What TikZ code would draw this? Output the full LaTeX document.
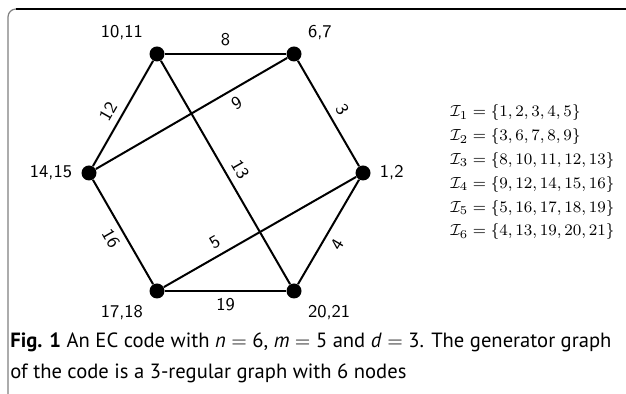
\documentclass[tikz,border=0pt]{standalone}
\usepackage{amsmath, amssymb}
\usepackage{fontspec}
\usepackage{xcolor}
\usepackage{tikz}
\usetikzlibrary{positioning}
\newfontfamily\capfont{PT Sans}

\begin{document}
\begin{tikzpicture}[
  x=0.5pt, y=0.5pt,
  vertex/.style={circle, fill, inner sep=0pt, minimum size=7.5pt},
  every label/.style={font=\sffamily\fontsize{9}{11}\selectfont},
  link/.style={line width=1pt},
  elabel/.style={font=\sffamily\fontsize{9}{11}\selectfont, sloped},
  setline/.style={anchor=west, inner sep=0pt, font=\fontsize{8.1}{10}\selectfont},
  label distance=1pt
]
\useasboundingbox (0,0) rectangle (626,394);

\draw[gray, line width=0.6pt] (8,0) -- (8,377) arc[start angle=180, end angle=90, radius=8];
\draw[black, line width=0.6pt] (16,385) -- (626,385);

\node[vertex, label={above left:10,11}] (n1011) at (157,340) {};
\node[vertex, label={above right:6,7}] (n67) at (294,340) {};
\node[vertex, label={right:1,2}] (n12) at (363,221) {};
\node[vertex, label={below right:20,21}] (n2021) at (294,103) {};
\node[vertex, label={below left:17,18}] (n1718) at (157,103) {};
\node[vertex, label={left:14,15}] (n1415) at (89,221) {};

\draw[link] (n1011) -- node[elabel, above] {8} (n67);
\draw[link] (n1718) -- node[elabel, below] {19} (n2021);
\draw[link] (n1415) -- node[elabel, above, pos=.45] {12} (n1011);
\draw[link] (n67) -- node[elabel, above, pos=.53] {3} (n12);
\draw[link] (n2021) -- node[elabel, below, pos=.45] {4} (n12);
\draw[link] (n1415) -- node[elabel, below] {16} (n1718);
\draw[link] (n1011) -- node[elabel, above, pos=.52] {13} (n2021);
\draw[link] (n1415) -- node[elabel, below, pos=.7] {9} (n67);
\draw[link] (n1718) -- node[elabel, above, pos=.3] {5} (n12);

\foreach \i/\elems in {1/{1,2,3,4,5}, 2/{3,6,7,8,9}, 3/{8,10,11,12,13},
                       4/{9,12,14,15,16}, 5/{5,16,17,18,19}, 6/{4,13,19,20,21}}
  \node[setline] (set\i) at (450,{281-23.8*(\i-1)}) {$\mathcal{I}_{\i} = \{\elems\}$};

\node[anchor=north west, inner sep=0pt, align=left,
  font=\capfont\fontsize{10.3}{15.5}\selectfont] (caption) at (10,62)
  {{\bfseries Fig. 1} An EC code with \textit{n} $=$ 6, \textit{m} $=$ 5 and \textit{d} $=$ 3. The generator graph\\
   of the code is a 3-regular graph with 6 nodes};
\end{tikzpicture}
\end{document}
